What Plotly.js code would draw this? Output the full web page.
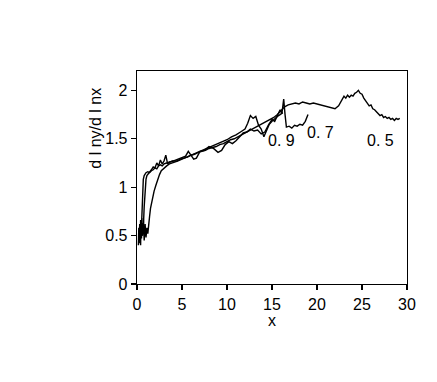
<!DOCTYPE html>
<html>
<head>
<meta charset="utf-8">
<script src="https://cdn.plot.ly/plotly-3.0.1.min.js"></script>
<style>
  html, body { margin: 0; padding: 0; background: #fff; }
  #plot { width: 437px; height: 382px; }
</style>
</head>
<body>
<div id="plot"></div>
<script>
// data, one pair of arrays per curve
var x05 = [0.15,0.2,0.25,0.3,0.35,0.4,0.45,0.5,0.55,0.6,0.65,0.7,0.8,0.9,1.0,1.2,1.4,1.6,1.8,2.0,
  2.2,2.4,2.6,2.8,3.0,3.3,3.6,4.0,4.4,4.8,5.2,5.6,6.0,6.4,6.8,7.2,7.6,8.0,8.4,8.8,
  9.2,9.6,10.0,10.4,10.8,11.2,11.6,12.0,12.4,12.8,13.2,13.6,14.0,14.4,14.8,15.2,15.6,16.0,16.4,16.8,
  17.2,17.6,18.0,18.4,18.8,19.2,19.6,20.0,20.4,20.8,21.2,21.6,22.0,22.4,22.6,22.8,23.0,23.2,23.4,23.6,
  23.8,24.0,24.2,24.4,24.6,24.8,25.0,25.2,25.4,25.6,25.8,26.0,26.2,26.4,26.6,26.8,27.0,27.2,27.4,27.6,
  27.8,28.0,28.2,28.4,28.6,28.8,29.0,29.2];
var y05 = [0.40,0.58,0.42,0.62,0.45,0.66,0.48,0.60,0.72,0.85,0.98,1.08,1.12,1.14,1.15,1.16,1.15,1.17,1.18,1.20,
  1.19,1.22,1.23,1.22,1.24,1.25,1.26,1.27,1.27,1.29,1.30,1.31,1.33,1.34,1.36,1.37,1.38,1.40,1.41,1.42,
  1.44,1.45,1.47,1.49,1.50,1.52,1.54,1.56,1.58,1.60,1.62,1.64,1.66,1.68,1.70,1.72,1.75,1.79,1.83,1.85,
  1.86,1.87,1.86,1.88,1.87,1.86,1.87,1.86,1.85,1.84,1.83,1.82,1.81,1.84,1.87,1.91,1.94,1.92,1.95,1.93,
  1.95,1.94,1.97,1.98,2.00,1.97,1.96,1.92,1.89,1.87,1.84,1.85,1.81,1.80,1.78,1.76,1.74,1.75,1.72,1.73,
  1.71,1.72,1.70,1.71,1.69,1.71,1.70,1.71];

var x07 = [0.3,0.35,0.4,0.45,0.5,0.55,0.6,0.7,0.8,0.9,1.0,1.1,1.2,1.4,1.6,1.8,2.0,2.2,2.4,2.6,
  2.8,3.0,3.2,3.4,3.6,4.0,4.5,5.0,5.4,5.7,6.0,6.3,6.6,7.0,7.5,8.0,8.5,9.0,9.4,9.8,
  10.2,10.6,11.0,11.4,11.8,12.2,12.6,13.0,13.4,13.8,14.2,14.6,15.0,15.3,15.6,15.9,16.1,16.3,16.45,16.6,
  16.9,17.2,17.5,17.8,18.1,18.4,18.7,19.0];
var y07 = [0.45,0.62,0.40,0.65,0.47,0.63,0.50,0.58,0.80,1.00,1.08,1.12,1.13,1.15,1.18,1.21,1.20,1.25,1.22,1.28,
  1.24,1.27,1.33,1.24,1.26,1.27,1.29,1.31,1.32,1.37,1.33,1.29,1.30,1.37,1.38,1.42,1.40,1.36,1.38,1.44,
  1.47,1.45,1.48,1.52,1.56,1.57,1.60,1.58,1.59,1.55,1.57,1.64,1.70,1.68,1.74,1.80,1.76,1.91,1.75,1.62,
  1.63,1.61,1.64,1.63,1.65,1.64,1.68,1.75];

var x09 = [0.6,0.7,0.8,0.9,1.0,1.1,1.2,1.3,1.4,1.5,1.7,1.9,2.1,2.3,2.5,2.7,3.0,3.3,3.6,4.0,
  4.5,5.0,5.5,6.0,6.5,7.0,7.5,8.0,8.5,9.0,9.5,10.0,10.5,11.0,11.5,12.0,12.3,12.6,12.9,13.2,
  13.5,13.8,14.1,14.4,14.7,15.0,15.3,15.6,15.9,16.2];
var y09 = [0.50,0.68,0.45,0.62,0.48,0.58,0.52,0.66,0.70,0.78,0.88,0.96,1.02,1.08,1.13,1.17,1.20,1.22,1.24,1.25,
  1.27,1.29,1.31,1.33,1.35,1.37,1.39,1.41,1.43,1.45,1.47,1.49,1.52,1.54,1.57,1.60,1.66,1.74,1.71,1.73,
  1.64,1.60,1.52,1.58,1.65,1.68,1.71,1.73,1.75,1.77];

// curve labels and where they sit
var labelText = ["0. 9", "0. 7", "0. 5"];
var labelX = [16.0, 20.4, 27.1];
var labelY = [1.48, 1.57, 1.48];

var lijn = { color: "#000", width: 1.4 };

var traces = [
  { x: x05, y: y05, type: "scatter", mode: "lines", line: lijn },
  { x: x07, y: y07, type: "scatter", mode: "lines", line: lijn },
  { x: x09, y: y09, type: "scatter", mode: "lines", line: lijn }
];

var asFont = { family: "Liberation Sans, Arial, sans-serif", size: 16, color: "#000" };

var annotations = labelText.map(function (t, i) {
  return {
    x: labelX[i], y: labelY[i], xref: "x", yref: "y",
    text: t, showarrow: false,
    font: { family: "Liberation Sans Narrow, Liberation Sans, sans-serif", size: 16, color: "#000" }
  };
});

// y-as titel staat hoger dan het midden van de as, dus als annotatie
annotations.push({
  xref: "paper", yref: "paper", x: -0.155, y: 0.73,
  xanchor: "center", yanchor: "middle",
  text: "d l ny/d l nx", textangle: -90, showarrow: false,
  font: asFont
});

var layout = {
  width: 437, height: 382,
  margin: { l: 137, r: 30, t: 71, b: 98 },
  showlegend: false,
  paper_bgcolor: "#fff",
  plot_bgcolor: "#fff",
  font: asFont,
  xaxis: {
    range: [0, 30], tickvals: [0, 5, 10, 15, 20, 25, 30],
    ticks: "outside", ticklen: 5, tickcolor: "#000", tickwidth: 1.3,
    showline: true, linecolor: "#000", linewidth: 1.3, mirror: true,
    showgrid: false, zeroline: false,
    title: { text: "x", font: asFont, standoff: 0 }
  },
  yaxis: {
    range: [0, 2.2], tickvals: [0, 0.5, 1, 1.5, 2],
    ticktext: ["0", "0.5", "1", "1.5", "2"],
    ticks: "outside", ticklen: 5, tickcolor: "#000", tickwidth: 1.3,
    showline: true, linecolor: "#000", linewidth: 1.3, mirror: true,
    showgrid: false, zeroline: false
  },
  annotations: annotations
};

Plotly.newPlot("plot", traces, layout, { displayModeBar: false, staticPlot: true });
</script>
</body>
</html>
